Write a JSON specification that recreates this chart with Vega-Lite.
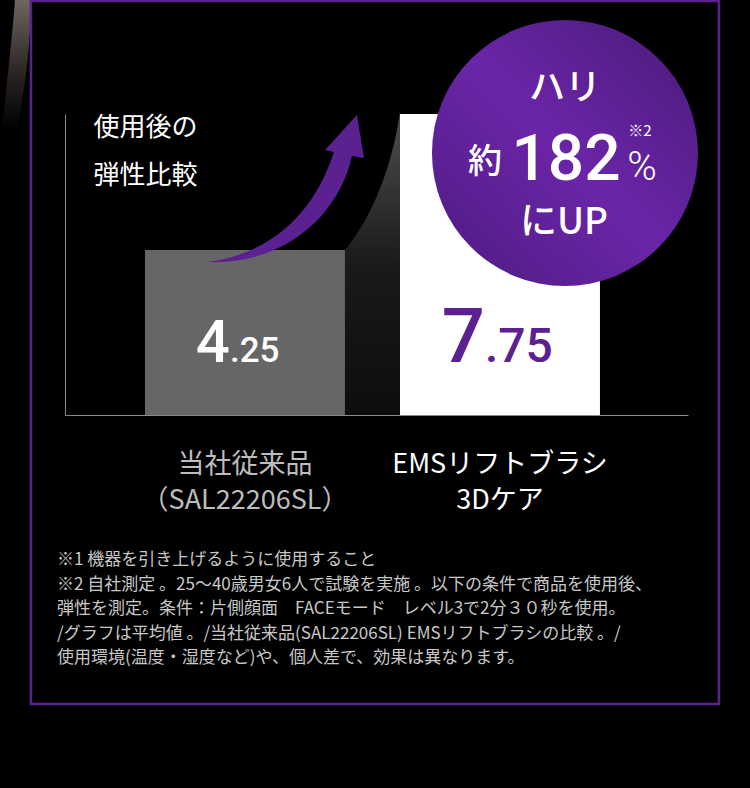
{
  "$schema": "https://vega.github.io/schema/vega-lite/v6.json",
  "width": 623,
  "height": 301,
  "autosize": {"type": "none"},
  "padding": {"left": 65, "top": 114, "right": 62, "bottom": 373},
  "background": "#000000",
  "config": {"view": {"stroke": null}, "font": "Noto Sans CJK JP"},
  "datasets": {
    "bars": [
      {"product": "当社従来品 （SAL22206SL）", "value": 4.25, "major": "4", "minor": ".25"},
      {"product": "EMSリフトブラシ 3Dケア", "value": 7.75, "major": "7", "minor": ".75"}
    ]
  },
  "layer": [
    {
      "data": {"name": "bars"},
      "mark": {"type": "bar"},
      "encoding": {
        "x": {
          "field": "product", "type": "nominal", "sort": null,
          "scale": {"domain": ["当社従来品 （SAL22206SL）", "EMSリフトブラシ 3Dケア"], "paddingInner": 0.2157, "paddingOuter": 0.3294, "align": 0.476},
          "axis": {
            "title": null, "ticks": false, "grid": false, "domainColor": "#8a8a8a", "domainWidth": 1,
            "labelExpr": "split(datum.label, ' ')", "labelAngle": 0, "labelFont": "Noto Sans CJK JP", "labelFontSize": 27,
            "labelPadding": 36, "labelLineHeight": 36, "labelBaseline": "top", "labelLimit": 0, "labelOverlap": false,
            "labelColor": {"condition": {"test": "datum.value === '当社従来品 （SAL22206SL）'", "value": "#bdbdbd"}, "value": "#ffffff"}
          }
        },
        "y": {
          "field": "value", "type": "quantitative",
          "scale": {"domain": [0, 7.75], "nice": false},
          "axis": {
            "title": ["使用後の", "弾性比較"], "titleAngle": 0, "titleAlign": "left", "titleBaseline": "top",
            "titleX": 28, "titleY": 0, "titleFont": "Noto Sans CJK JP", "titleFontSize": 26, "titleFontWeight": "normal",
            "titleColor": "#ffffff", "titleLineHeight": 48,
            "labels": false, "ticks": false, "grid": false, "domainColor": "#8a8a8a", "domainWidth": 1
          }
        },
        "color": {"condition": {"test": "datum.product === 'EMSリフトブラシ 3Dケア'", "value": "#ffffff"}, "value": "#666666"}
      }
    },
    {
      "data": {"values": [{"decor": "streak"}]},
      "mark": {
        "type": "point", "size": 4, "filled": true, "opacity": 1, "strokeWidth": 0,
        "shape": "M -230 -114 L -215 -114 L -215 -84 C -217 -44 -223 -14 -227 16 L -243 16 C -239 -24 -233 -74 -230 -114 Z",
        "fill": {"gradient": "linear", "x1": 0, "y1": 0, "x2": 0, "y2": 1, "stops": [{"offset": 0, "color": "#6e6660"}, {"offset": 0.55, "color": "#2a2623"}, {"offset": 1, "color": "#000000"}]}
      },
      "encoding": {
        "x": {"datum": "当社従来品 （SAL22206SL）", "type": "nominal"},
        "y": {"datum": 7.75, "type": "quantitative"}
      }
    },
    {
      "data": {"values": [{"decor": "frame"}]},
      "mark": {
        "type": "point", "size": 4, "filled": false, "opacity": 1, "fill": null, "stroke": "#5b2191", "strokeWidth": 2.5,
        "shape": "M -214 -414 L 474 -414 L 474 289 L -214 289 Z"
      },
      "encoding": {
        "x": {"datum": "当社従来品 （SAL22206SL）", "type": "nominal"},
        "y": {"datum": 0, "type": "quantitative"}
      }
    },
    {
      "data": {"values": [{"decor": "shadow"}]},
      "mark": {
        "type": "point", "size": 4, "filled": true, "opacity": 1, "strokeWidth": 0,
        "shape": "M -155 -165 C -130 -195 -108 -245 -100 -303 L -100 0 L -155 0 Z",
        "fill": {"gradient": "linear", "x1": 0, "y1": 0, "x2": 0, "y2": 1, "stops": [{"offset": 0, "color": "#4e4e4e"}, {"offset": 0.3, "color": "#303030"}, {"offset": 0.5, "color": "#1a1a1a"}, {"offset": 1, "color": "#0d0d0d"}]}
      },
      "encoding": {
        "x": {"datum": "EMSリフトブラシ 3Dケア", "type": "nominal"},
        "y": {"datum": 0, "type": "quantitative"}
      }
    },
    {
      "data": {"values": [{"decor": "arrow"}]},
      "mark": {
        "type": "point", "size": 4, "filled": true, "opacity": 1, "strokeWidth": 0, "fill": "#5b2191",
        "shape": "M -38 -153 C 15 -160 65 -190 89 -263 L 80 -265 L 112 -300 L 119 -257 L 107 -259 C 94 -200 40 -150 -38 -153 Z"
      },
      "encoding": {
        "x": {"datum": "当社従来品 （SAL22206SL）", "type": "nominal"},
        "y": {"datum": 0, "type": "quantitative"}
      }
    },
    {
      "data": {"values": [{"decor": "badge"}]},
      "mark": {
        "type": "point", "shape": "circle", "size": 70756, "filled": true, "opacity": 1, "strokeWidth": 0,
        "xOffset": 65, "yOffset": -262,
        "fill": {"gradient": "linear", "x1": 1, "y1": 0, "x2": 0, "y2": 1, "stops": [{"offset": 0, "color": "#481a76"}, {"offset": 0.5, "color": "#6b25a8"}, {"offset": 1, "color": "#4d1b80"}]}
      },
      "encoding": {
        "x": {"datum": "EMSリフトブラシ 3Dケア", "type": "nominal"},
        "y": {"datum": 0, "type": "quantitative"}
      }
    },
    {
      "data": {"values": [{"t": "ハリ"}]},
      "mark": {"type": "text", "font": "Noto Sans CJK JP", "fontSize": 36, "fontWeight": 500, "color": "#ffffff", "align": "center", "baseline": "middle", "dx": 65, "dy": -326},
      "encoding": {
        "x": {"datum": "EMSリフトブラシ 3Dケア", "type": "nominal"},
        "y": {"datum": 0, "type": "quantitative"},
        "text": {"field": "t"}
      }
    },
    {
      "data": {"values": [{"t": "約"}]},
      "mark": {"type": "text", "font": "Noto Sans CJK JP", "fontSize": 34, "fontWeight": 500, "color": "#ffffff", "align": "center", "baseline": "middle", "dx": -15, "dy": -252},
      "encoding": {
        "x": {"datum": "EMSリフトブラシ 3Dケア", "type": "nominal"},
        "y": {"datum": 0, "type": "quantitative"},
        "text": {"field": "t"}
      }
    },
    {
      "data": {"values": [{"t": "182"}]},
      "mark": {"type": "text", "font": "Roboto", "fontSize": 64, "fontWeight": 500, "color": "#ffffff", "align": "center", "baseline": "alphabetic", "dx": 66, "dy": -235},
      "encoding": {
        "x": {"datum": "EMSリフトブラシ 3Dケア", "type": "nominal"},
        "y": {"datum": 0, "type": "quantitative"},
        "text": {"field": "t"}
      }
    },
    {
      "data": {"values": [{"t": "%"}]},
      "mark": {"type": "text", "font": "Roboto", "fontSize": 40, "fontWeight": 300, "color": "#ffffff", "align": "center", "baseline": "alphabetic", "dx": 142, "dy": -235},
      "encoding": {
        "x": {"datum": "EMSリフトブラシ 3Dケア", "type": "nominal"},
        "y": {"datum": 0, "type": "quantitative"},
        "text": {"field": "t"}
      }
    },
    {
      "data": {"values": [{"t": "※2"}]},
      "mark": {"type": "text", "font": "Noto Sans CJK JP", "fontSize": 15, "color": "#ffffff", "align": "center", "baseline": "middle", "dx": 140, "dy": -284},
      "encoding": {
        "x": {"datum": "EMSリフトブラシ 3Dケア", "type": "nominal"},
        "y": {"datum": 0, "type": "quantitative"},
        "text": {"field": "t"}
      }
    },
    {
      "data": {"values": [{"t": "にUP"}]},
      "mark": {"type": "text", "font": "Noto Sans CJK JP", "fontSize": 37, "fontWeight": 500, "color": "#ffffff", "align": "center", "baseline": "middle", "dx": 64, "dy": -192},
      "encoding": {
        "x": {"datum": "EMSリフトブラシ 3Dケア", "type": "nominal"},
        "y": {"datum": 0, "type": "quantitative"},
        "text": {"field": "t"}
      }
    },
    {
      "data": {"name": "bars"},
      "mark": {"type": "text", "font": "Roboto", "fontWeight": 500, "align": "right", "baseline": "alphabetic", "dx": -15, "dy": -53},
      "encoding": {
        "x": {"field": "product", "type": "nominal"},
        "y": {"datum": 0, "type": "quantitative"},
        "text": {"field": "major"},
        "size": {"condition": {"test": "datum.product === 'EMSリフトブラシ 3Dケア'", "value": 76}, "value": 60},
        "color": {"condition": {"test": "datum.product === 'EMSリフトブラシ 3Dケア'", "value": "#5b2191"}, "value": "#ffffff"}
      }
    },
    {
      "data": {"name": "bars"},
      "mark": {"type": "text", "font": "Roboto", "fontWeight": 500, "align": "left", "baseline": "alphabetic", "dx": -15, "dy": -53},
      "encoding": {
        "x": {"field": "product", "type": "nominal"},
        "y": {"datum": 0, "type": "quantitative"},
        "text": {"field": "minor"},
        "size": {"condition": {"test": "datum.product === 'EMSリフトブラシ 3Dケア'", "value": 48}, "value": 35},
        "color": {"condition": {"test": "datum.product === 'EMSリフトブラシ 3Dケア'", "value": "#5b2191"}, "value": "#ffffff"}
      }
    },
    {
      "data": {"values": [{"note": "footnotes"}]},
      "mark": {
        "type": "text", "font": "Noto Sans CJK JP", "fontSize": 17, "color": "#c8c8c8", "align": "left", "baseline": "top",
        "lineHeight": 24.5, "dx": -188, "dy": 137,
        "text": [
          "※1 機器を引き上げるように使用すること",
          "※2 自社測定 。25～40歳男女6人で試験を実施 。以下の条件で商品を使用後、",
          "弾性を測定。条件：片側顔面　FACEモード　レベル3で2分３０秒を使用。",
          "/グラフは平均値 。/当社従来品(SAL22206SL) EMSリフトブラシの比較 。/",
          "使用環境(温度・湿度など)や、個人差で、効果は異なります。"
        ]
      },
      "encoding": {
        "x": {"datum": "当社従来品 （SAL22206SL）", "type": "nominal"},
        "y": {"datum": 0, "type": "quantitative"}
      }
    }
  ]
}
